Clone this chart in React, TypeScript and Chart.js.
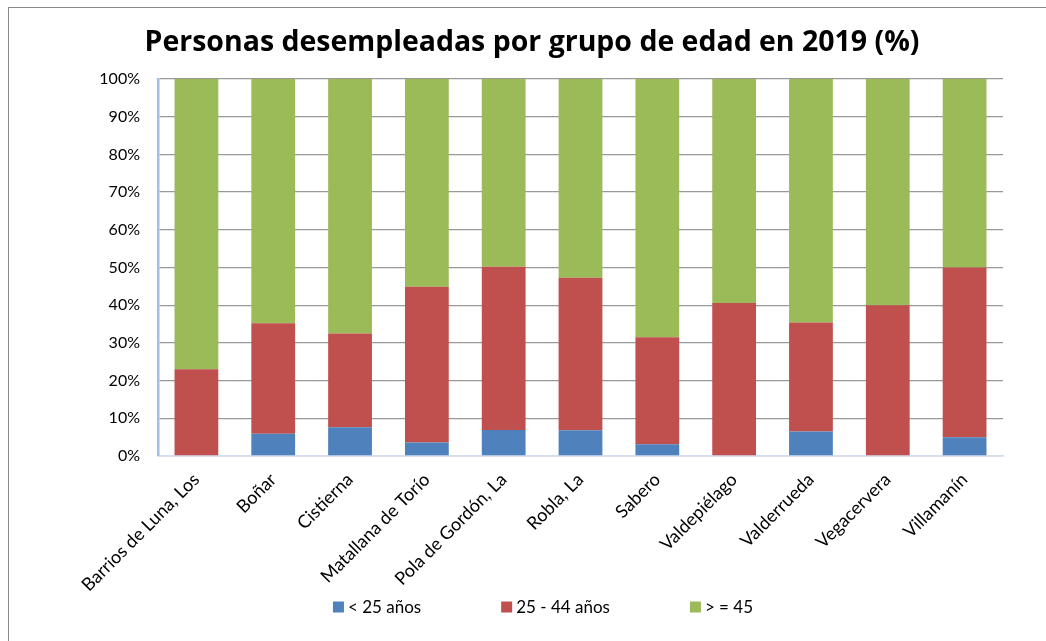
import React, { useEffect, useRef } from "react";
import { Chart, registerables } from "chart.js";

Chart.register(...registerables);

// ---- data ----
const categories = [
  "Barrios de Luna, Los",
  "Boñar",
  "Cistierna",
  "Matallana de Torío",
  "Pola de Gordón, La",
  "Robla, La",
  "Sabero",
  "Valdepiélago",
  "Valderrueda",
  "Vegacervera",
  "Villamanín",
];
const seriesLabels = ["< 25 años", "25 - 44 años", "> = 45"];
const under25 = [0, 5.9, 7.6, 3.6, 6.9, 6.8, 3.1, 0, 6.5, 0, 5.0];
const age25to44 = [23.0, 29.3, 24.9, 41.3, 43.3, 40.5, 28.4, 40.6, 28.9, 40.0, 45.0];
const over45 = [77.0, 64.8, 67.5, 55.1, 49.8, 52.7, 68.5, 59.4, 64.6, 60.0, 50.0];
const yTickValues = [0, 10, 20, 30, 40, 50, 60, 70, 80, 90, 100];
const titleText = "Personas desempleadas por grupo de edad en 2019 (%)";

const seriesColors = ["#4F81BD", "#C0504D", "#9BBB59"];
const FONT = 'Lato, "Open Sans", "DejaVu Sans", sans-serif';
const TITLE_FONT = '"Open Sans", Lato, "DejaVu Sans", sans-serif';

const W = 1046;
const H = 641;

const titlePlugin = {
  id: "excelTitle",
  afterDraw(chart: any) {
    const ctx = chart.ctx as CanvasRenderingContext2D;
    ctx.save();
    ctx.font = `bold 28px ${TITLE_FONT}`;
    const w = ctx.measureText(titleText).width;
    const size = Math.min(32, (28 * 775) / w);
    ctx.font = `bold ${size}px ${TITLE_FONT}`;
    ctx.fillStyle = "#000";
    ctx.textAlign = "center";
    ctx.textBaseline = "alphabetic";
    ctx.fillText(titleText, 532, 51);
    ctx.restore();
  },
};

const legendPlugin = {
  id: "excelLegend",
  afterDraw(chart: any) {
    const ctx = chart.ctx as CanvasRenderingContext2D;
    ctx.save();
    ctx.font = `17px ${FONT}`;
    ctx.textBaseline = "middle";
    ctx.textAlign = "left";
    const box = 11;
    const gap = 4;
    const spacing = 80;
    const items = chart.data.datasets.map((ds: any) => ({
      text: ds.label as string,
      color: ds.backgroundColor as string,
    }));
    const widths = items.map((it: any) => box + gap + ctx.measureText(it.text).width);
    const total = widths.reduce((a: number, b: number) => a + b, 0) + spacing * (items.length - 1);
    let x = 543 - total / 2;
    const y = 607;
    items.forEach((it: any, i: number) => {
      ctx.fillStyle = it.color;
      ctx.fillRect(x, y - box / 2, box, box);
      ctx.fillStyle = "#000";
      ctx.fillText(it.text, x + box + gap, y + 1);
      x += widths[i] + spacing;
    });
    ctx.restore();
  },
};

export default function App() {
  const ref = useRef<HTMLCanvasElement | null>(null);

  useEffect(() => {
    if (!ref.current) return;
    const chart = new Chart(ref.current, {
      type: "bar",
      data: {
        labels: categories,
        datasets: [
          { label: seriesLabels[0], data: under25, backgroundColor: seriesColors[0] },
          { label: seriesLabels[1], data: age25to44, backgroundColor: seriesColors[1] },
          { label: seriesLabels[2], data: over45, backgroundColor: seriesColors[2] },
        ],
      },
      options: {
        responsive: false,
        animation: false,
        devicePixelRatio: 1,
        layout: { padding: { left: 0, right: 43, top: 79, bottom: 5 } },
        datasets: {
          bar: { barPercentage: 0.57, categoryPercentage: 1.0, borderWidth: 0 },
        },
        plugins: {
          legend: { display: false },
          tooltip: { enabled: false },
          title: { display: false },
        },
        scales: {
          x: {
            stacked: true,
            grid: { display: false, drawTicks: false },
            border: { display: true, color: "#D3DEF1", width: 1.5 },
            ticks: {
              color: "#000",
              font: { family: FONT, size: 18 },
              maxRotation: 45,
              minRotation: 45,
              autoSkip: false,
              padding: 13,
            },
            afterFit: (scale: any) => {
              scale.height = 180;
            },
          },
          y: {
            stacked: true,
            min: 0,
            max: 100,
            grid: { color: "#999999", lineWidth: 1.3, drawTicks: false },
            border: { display: true, color: "#A4BDE6", width: 2.5 },
            afterBuildTicks: (scale: any) => {
              scale.ticks = yTickValues.map((v) => ({ value: v }));
            },
            ticks: {
              color: "#000",
              font: { family: FONT, size: 16 },
              padding: 18,
              callback: (v: any) => `${v}%`,
            },
            afterFit: (scale: any) => {
              scale.width = 158;
            },
          },
        },
      },
      plugins: [titlePlugin, legendPlugin],
    });
    return () => chart.destroy();
  }, []);

  return (
    <div style={{ position: "fixed", left: 0, top: 0, width: W, height: H, background: "#fff", overflow: "hidden" }}>
      <div
        style={{
          position: "absolute",
          left: 8,
          top: 7,
          width: W,
          height: H,
          borderLeft: "1px solid #8A8A8A",
          borderTop: "1px solid #8A8A8A",
        }}
      />
      <canvas ref={ref} width={W} height={H} style={{ position: "absolute", left: 0, top: 0, width: W, height: H }} />
    </div>
  );
}
